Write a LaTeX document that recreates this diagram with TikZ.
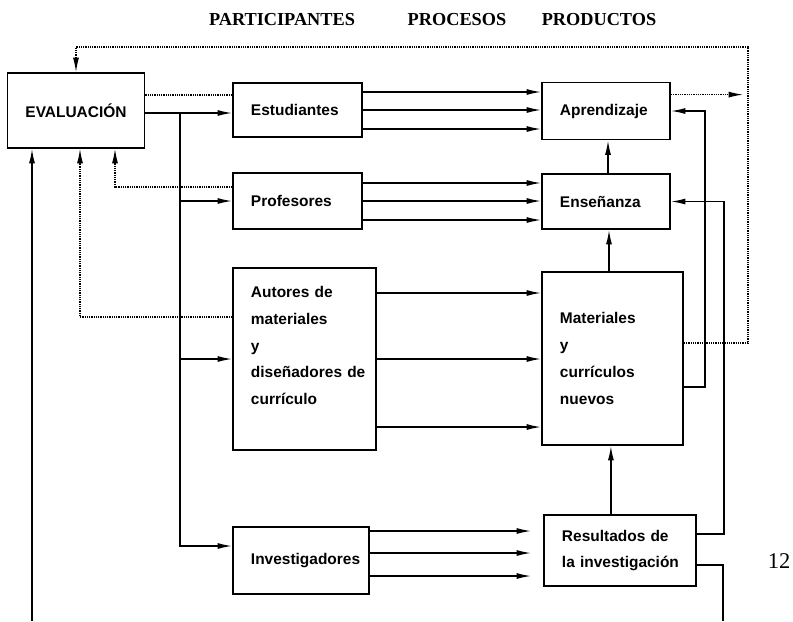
\documentclass[tikz,border=0pt]{standalone}
\usepackage{fontspec}
\setmainfont{Liberation Sans}
\newfontfamily\headfont{Liberation Serif}
\usetikzlibrary{arrows.meta}

\tikzset{
  box/.style={draw, line width=1.3pt, inner xsep=0.45cm, align=left,
    font=\bfseries\fontsize{11}{19}\selectfont},
  head/.style={font=\headfont\bfseries\fontsize{13}{15}\selectfont},
  arr/.style={-{Latex[length=3.6mm,width=1.5mm]}},
  dots/.style={line width=0.8pt, dash pattern=on 0.8pt off 0.8pt},
}

\begin{document}
\begin{tikzpicture}[x=0.025cm, y=-0.025cm, line width=1pt]
  \useasboundingbox (0,0) rectangle (793,621);

  \node[head] (hpar) at (282,20) {PARTICIPANTES};
  \node[head] (hpro) at (457,20) {PROCESOS};
  \node[head] (hprod) at (599,20) {PRODUCTOS};

  \node[box, align=center, minimum width=3.2cm, minimum height=1.875cm] (eval) at (76,110.5) {EVALUACIÓN};

  \node[box, text width=2.325cm, minimum height=1.35cm] (est) at (297.5,110) {Estudiantes};
  \node[box, text width=2.325cm, minimum height=1.4cm] (prof) at (297.5,201) {Profesores};
  \node[box, text width=2.675cm, minimum height=4.55cm] (aut) at (304.5,359) {Autores de\\materiales\\y\\\mbox{diseñadores de}\\currículo\\\mbox{}};
  \node[box, text width=2.5cm, minimum height=1.675cm] (inv) at (301,560.5) {\mbox{Investigadores}};

  \node[box, text width=2.3cm, minimum height=1.425cm] (apr) at (606,111) {Aprendizaje};
  \node[box, text width=2.3cm, minimum height=1.375cm] (ens) at (606,201.5) {Enseñanza};
  \node[box, text width=2.625cm, minimum height=4.325cm] (mat) at (612.5,358.5) {Materiales\\y\\currículos\\nuevos};
  \node[box, text width=2.9cm, minimum height=1.775cm] (res) at (620,550.5) {Resultados de\\\mbox{la investigación}};

  \node[font=\headfont\fontsize{16}{18}\selectfont] (pag) at (779,561) {12};

  \coordinate (trunk) at (180,113);
  \coordinate (loop) at (748,47);
  \coordinate (foot) at (32,621);
  \coordinate (exit) at (723,621);

  \draw[arr] (eval.east |- trunk) -- (est.west |- trunk);
  \draw[arr] (trunk) |- ([yshift=0.3625cm]inv.west);
  \draw[arr] (trunk |- prof.west) -- (prof.west);
  \draw[arr] (trunk |- aut.west) -- (aut.west);

  \foreach \d in {0.45,0,-0.475} {
    \draw[arr] ([yshift=\d cm]est.east) -- ([yshift=\d cm]est.east -| apr.west);
    \draw[arr] ([yshift=\d cm]prof.east) -- ([yshift=\d cm]prof.east -| ens.west);
  }
  \foreach \d in {1.65,0,-1.7}
    \draw[arr] ([yshift=\d cm]aut.east) -- ([yshift=\d cm]aut.east -| mat.west);
  \foreach \d in {0.7375,0.1875,-0.3875}
    \draw[arr, shorten >=0.3cm] ([yshift=\d cm]inv.east) -- ([yshift=\d cm]inv.east -| res.west);

  \draw[arr] ([xshift=0.05cm]ens.north) -- ([xshift=0.05cm]apr.south);
  \draw[arr] ([xshift=0.075cm]ens.south |- mat.north) -- ([xshift=0.075cm]ens.south);
  \draw[arr] ([xshift=-0.04cm]mat.south |- res.north) -- ([xshift=-0.04cm]mat.south);

  \draw[arr] ([yshift=-0.7125cm]mat.east) -| ([xshift=0.85cm]apr.east) -- (apr.east);
  \draw[arr] ([yshift=0.4125cm]res.east) -| ([xshift=1.325cm]ens.east) -- (ens.east);
  \draw ([yshift=-0.3625cm]res.east) -| (exit);
  \draw[arr] (foot) -- (foot |- eval.south);

  \draw[dots] ([yshift=0.375cm]est.west) -- ([yshift=0.375cm]est.west -| eval.east);
  \draw[dots, arr] ([yshift=0.35cm]prof.west) -| ([xshift=0.975cm]eval.south);
  \draw[dots, arr] ([yshift=1.05cm]aut.west) -| ([xshift=0.1cm]eval.south);
  \draw[dots, arr] ([yshift=0.3875cm]mat.east) -| (loop) -| (eval.north);
  \draw[dots, arr, shorten >=0.125cm] ([yshift=0.41cm]apr.east) -- ([yshift=0.41cm]apr.east -| loop);
\end{tikzpicture}
\end{document}
